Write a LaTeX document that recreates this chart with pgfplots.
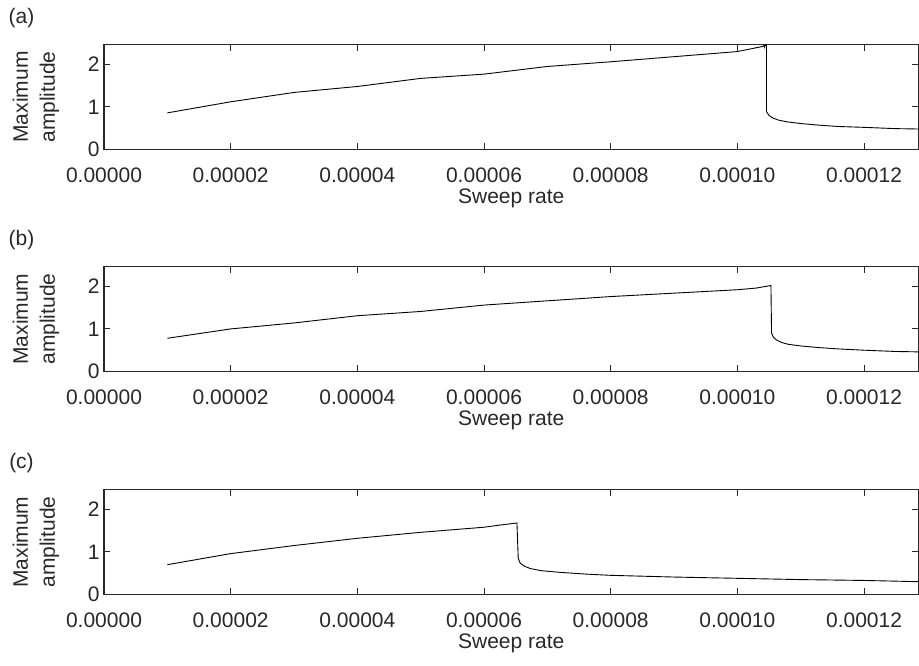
\documentclass[border=0pt]{standalone}
\usepackage{fontspec}
\setmainfont{Liberation Sans}
\usepackage{pgfplots}
\pgfplotsset{compat=1.18}

\definecolor{AxisGray}{RGB}{40,40,40}

\pgfplotsset{
  sweep/.style={
    scale only axis, width=814.5pt, height=105pt,
    xmin=0, xmax=1.286e-4, ymin=0, ymax=2.466,
    xtick={0,2e-5,4e-5,6e-5,8e-5,1e-4,1.2e-4},
    xticklabels={0.00000,0.00002,0.00004,0.00006,0.00008,0.00010,0.00012},
    ytick={0,1,2}, yticklabels={0,1,2},
    scaled x ticks=false,
    tick align=inside, major tick length=6.5pt,
    axis line style={line width=1.2pt, AxisGray},
    every tick/.style={line width=1pt, AxisGray},
    tick label style={font=\fontsize{21}{24}\selectfont, AxisGray},
    xticklabel style={yshift=-14.5pt},
    yticklabel style={xshift=-1pt},
    label style={font=\fontsize{21}{27}\selectfont, AxisGray},
    xlabel={Sweep rate},
    xlabel style={at={(axis description cs:0.5,0)}, anchor=north, yshift=-36pt},
    ylabel={Maximum\\amplitude},
    ylabel style={at={(axis description cs:-0.0835,0.5)}, anchor=center, align=center},
  },
  amp/.style={black, line width=0.9pt},
}

\begin{document}
\begin{tikzpicture}
\useasboundingbox (0,0) rectangle (919pt,665pt);

% (a)
\node[font=\fontsize{21}{24}\selectfont, AxisGray] at (21.5pt,646.5pt) {(a)};
\begin{axis}[sweep, at={(104pt,515.5pt)}, anchor=south west]
\addplot[amp] coordinates {
  (1e-5,0.86)(2e-5,1.12)(3e-5,1.34)(4e-5,1.48)(5e-5,1.67)(6e-5,1.77)
  (7e-5,1.95)(8e-5,2.06)(9e-5,2.18)(1e-4,2.30)(1.02e-4,2.36)(1.04e-4,2.42)
  (1.042e-4,2.45)(1.043e-4,2.40)(1.044e-4,2.45)(1.046e-4,2.45)
  (1.046e-4,0.89)(1.050e-4,0.80)(1.056e-4,0.74)(1.065e-4,0.69)(1.078e-4,0.65)
  (1.10e-4,0.61)(1.13e-4,0.57)(1.16e-4,0.54)(1.20e-4,0.52)(1.25e-4,0.49)(1.29e-4,0.48)
};
\end{axis}

% (b)
\node[font=\fontsize{21}{24}\selectfont, AxisGray] at (21.5pt,424.5pt) {(b)};
\begin{axis}[sweep, at={(104pt,293.5pt)}, anchor=south west]
\addplot[amp] coordinates {
  (1e-5,0.78)(2e-5,1.00)(3e-5,1.14)(4e-5,1.31)(5e-5,1.41)(6e-5,1.56)
  (7e-5,1.66)(8e-5,1.76)(9e-5,1.84)(1e-4,1.92)(1.03e-4,1.96)(1.053e-4,2.02)
  (1.054e-4,0.90)(1.057e-4,0.80)(1.062e-4,0.74)(1.07e-4,0.68)(1.08e-4,0.64)
  (1.10e-4,0.60)(1.13e-4,0.56)(1.16e-4,0.53)(1.20e-4,0.50)(1.25e-4,0.47)(1.29e-4,0.46)
};
\end{axis}

% (c)
\node[font=\fontsize{21}{24}\selectfont, AxisGray] at (21.5pt,201.5pt) {(c)};
\begin{axis}[sweep, at={(104pt,70.5pt)}, anchor=south west]
\addplot[amp] coordinates {
  (1e-5,0.70)(2e-5,0.96)(3e-5,1.15)(4e-5,1.32)(5e-5,1.46)(6e-5,1.58)
  (6.2e-5,1.62)(6.52e-5,1.68)(6.54e-5,0.85)(6.57e-5,0.74)(6.63e-5,0.67)
  (6.73e-5,0.61)(6.9e-5,0.56)(7.2e-5,0.52)(7.6e-5,0.48)(8e-5,0.45)
  (9e-5,0.41)(1e-4,0.38)(1.1e-4,0.35)(1.2e-4,0.33)(1.29e-4,0.30)
};
\end{axis}
\end{tikzpicture}
\end{document}
